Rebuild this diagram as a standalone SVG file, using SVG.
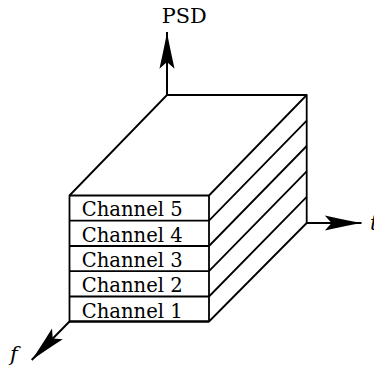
<svg xmlns="http://www.w3.org/2000/svg" width="374" height="370" viewBox="0 0 374 370">
<style>
.box{fill:#fff;stroke:#000;stroke-width:1.8;stroke-linejoin:round}
.ln{fill:none;stroke:#000;stroke-width:1.8}
.ax{fill:none;stroke:#000;stroke-width:2;marker-end:url(#ah)}
.lbl{font-family:'DejaVu Serif','Liberation Serif',serif;font-size:21px;fill:#000}
.it{font-style:italic}
</style>
<defs>
<marker id="ah" markerUnits="userSpaceOnUse" markerWidth="40" markerHeight="20" viewBox="-34 -8 36 16" refX="0" refY="0" orient="auto">
<path d="M0,0 Q-14,-2.5 -33,-6.8 L-27,0 L-33,6.8 Q-14,2.5 0,0 Z" fill="#000"/>
</marker>
</defs>
<g id="connectors">
<path class="ax" d="M167,95 V32"/>
<path class="ax" d="M306.7,223 H361.5"/>
<path class="ax" d="M69.5,321.5 L31.7,360"/>
</g>
<g id="block">
<path class="box" d="M69.5,195.5 L167,95 H306.7 V223 L209,321.5 H69.5 Z"/>
<path class="ln" d="M69.5,195.5 H209 L306.7,95"/>
<path class="ln" d="M209,195.5 V321.5"/>
<path class="ln" d="M209,220.7 L306.7,120.7 M209,246 L306.7,146 M209,271.2 L306.7,171.4 M209,296.5 L306.7,196.8"/>
<path class="ln" d="M69.5,321.5 H209" stroke-width="2.6"/>
</g>
<g id="ch5"><path class="ln" d="M69.5,220.7 H209"/><text class="lbl" x="81.7" y="216.3" textLength="101" lengthAdjust="spacingAndGlyphs">Channel 5</text></g>
<g id="ch4"><path class="ln" d="M69.5,246 H209"/><text class="lbl" x="81.7" y="241.6" textLength="101" lengthAdjust="spacingAndGlyphs">Channel 4</text></g>
<g id="ch3"><path class="ln" d="M69.5,271.2 H209"/><text class="lbl" x="81.7" y="266.8" textLength="101" lengthAdjust="spacingAndGlyphs">Channel 3</text></g>
<g id="ch2"><path class="ln" d="M69.5,296.5 H209"/><text class="lbl" x="81.7" y="292.1" textLength="101" lengthAdjust="spacingAndGlyphs">Channel 2</text></g>
<g id="ch1"><text class="lbl" x="81.7" y="317.5" textLength="101" lengthAdjust="spacingAndGlyphs">Channel 1</text></g>
<g id="labels">
<text class="lbl" x="161.7" y="22.7" textLength="45" lengthAdjust="spacingAndGlyphs">PSD</text>
<text class="lbl it" x="370" y="230">t</text>
<text class="lbl it" x="10" y="361">f</text>
</g>
</svg>
